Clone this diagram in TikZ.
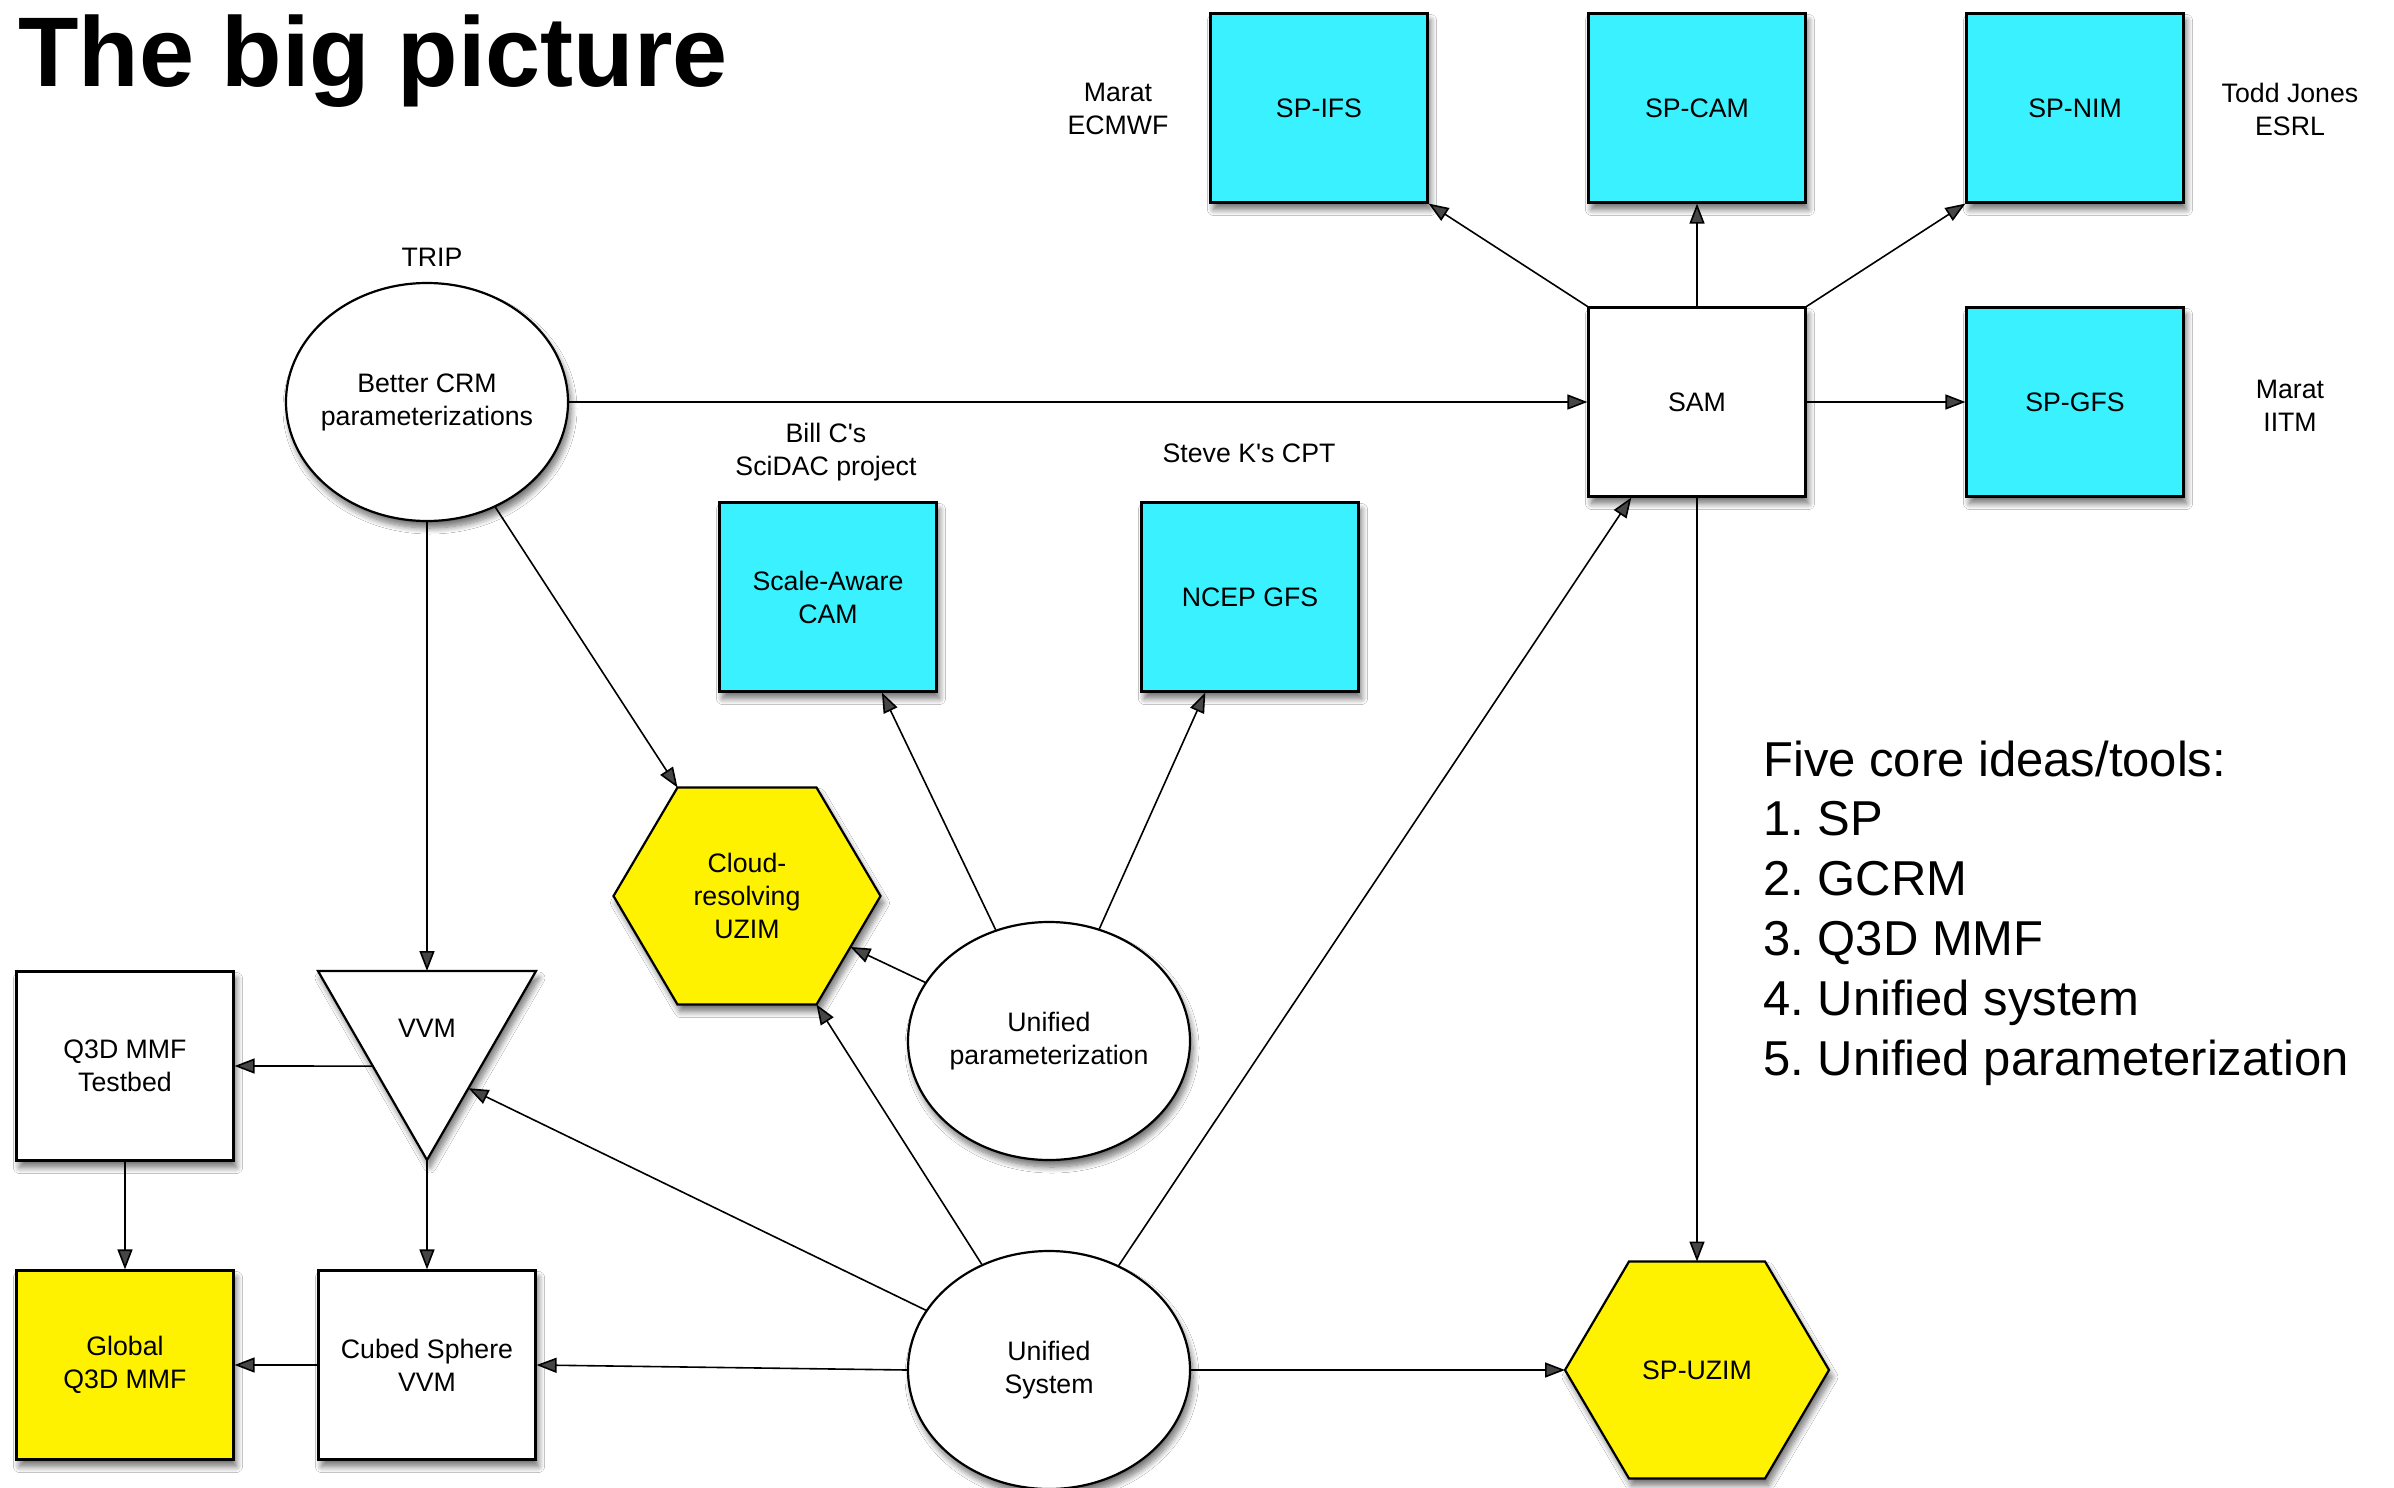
\documentclass[tikz,border=0pt]{standalone}
\usepackage{fontspec}
\setmainfont{Liberation Sans}
\usetikzlibrary{arrows.meta,shapes.geometric,calc,shadows.blur}
\definecolor{boxcyan}{RGB}{58,242,255}
\definecolor{hexyellow}{RGB}{255,242,0}
\frenchspacing
\begin{document}
\begin{tikzpicture}[x=1pt,y=-1pt,
  every node/.style={font=\fontsize{26.7}{33}\selectfont, inner sep=0pt},
  dropsh/.style={blur shadow={shadow xshift=3pt, shadow yshift=-7pt, shadow blur radius=6pt, shadow blur steps=10, shadow opacity=55}},
  box/.style={rectangle, draw, line width=2.2pt, minimum width=217pt, minimum height=189pt, align=center, dropsh},
  cyanbox/.style={box, fill=boxcyan},
  whitebox/.style={box, fill=white},
  ell/.style={ellipse, draw, line width=2.2pt, fill=white, minimum width=282pt, minimum height=238pt, inner xsep=-40pt, align=center, dropsh},
  shapeline/.style={draw, line width=2.2pt, line join=miter, dropsh},
  lbl/.style={align=center},
  conn/.style={line width=1.6pt, -{Triangle[length=20pt,width=15pt]}},
  biglist/.style={font=\fontsize{49}{60}\selectfont, anchor=base west},
]
\fill[white] (0,0) rectangle (2394,1488);
\useasboundingbox (0,0) rectangle (2394,1488);

% title
\node[anchor=base west, font=\fontsize{99}{110}\selectfont\bfseries] (title) at (18,86) {The big picture};

% boxes
\node[cyanbox] (SPIFS) at (1319,108) {SP-IFS};
\node[cyanbox] (SPCAM) at (1697,108) {SP-CAM};
\node[cyanbox] (SPNIM) at (2075,108) {SP-NIM};
\node[cyanbox] (SPGFS) at (2075,402) {SP-GFS};
\node[whitebox] (SAM) at (1697,402) {SAM};
\node[cyanbox] (SAC) at (828,597) {Scale-Aware\\CAM};
\node[cyanbox] (NCEP) at (1250,597) {NCEP GFS};
\node[whitebox] (Q3D) at (125,1066) {Q3D MMF\\Testbed};
\node[box, fill=hexyellow] (GQ) at (125,1365) {Global\\Q3D MMF};
\node[whitebox] (CS) at (427,1365) {Cubed Sphere\\VVM};

% ellipses
\node[ell] (CRM) at (427,402) {Better CRM\\parameterizations};
\node[ell] (UP) at (1049,1041) {Unified\\parameterization};
\node[ell] (US) at (1049,1370) {Unified\\System};

% cloud-resolving hexagon
\coordinate (CRl) at (613.5,896);
\coordinate (CRtl) at (677.5,787.5);
\coordinate (CRtr) at (816.5,787.5);
\coordinate (CRr) at (880.5,896);
\coordinate (CRbr) at (816.5,1004.5);
\coordinate (CRbl) at (677.5,1004.5);
\path[shapeline, fill=hexyellow] (CRl) -- (CRtl) -- (CRtr) -- (CRr) -- (CRbr) -- (CRbl) -- cycle;
\node[align=center] (CR) at (747,896) {Cloud-\\resolving\\UZIM};
\coordinate (CRre) at ($(CRr)!0.47!(CRbr)$);

% SP-UZIM hexagon
\coordinate (UZl) at (1565,1370);
\coordinate (UZtl) at (1629,1261.5);
\coordinate (UZtr) at (1765,1261.5);
\coordinate (UZr) at (1829,1370);
\coordinate (UZbr) at (1765,1478.5);
\coordinate (UZbl) at (1629,1478.5);
\path[shapeline, fill=hexyellow] (UZl) -- (UZtl) -- (UZtr) -- (UZr) -- (UZbr) -- (UZbl) -- cycle;
\node (UZ) at (1697,1370) {SP-UZIM};
\coordinate (UZt) at ($(UZtl)!0.5!(UZtr)$);

% VVM triangle
\coordinate (VVtl) at (318,971);
\coordinate (VVtr) at (536,971);
\coordinate (VVb) at (427,1160);
\coordinate (VVt) at (427,971);
\path[shapeline, fill=white] (VVtl) -- (VVtr) -- (VVb) -- cycle;
\node (VVM) at (427,1028) {VVM};
\coordinate (VVle) at ($(VVtl)!0.503!(VVb)$);
\coordinate (VVre) at ($(VVtr)!0.62!(VVb)$);

% connector end points on box edges
\coordinate (SAMb) at ($(SAM.south west)!0.2!(SAM.south east)$);
\coordinate (SACb) at ($(SAC.south west)!0.746!(SAC.south east)$);
\coordinate (NCEPb) at ($(NCEP.south west)!0.296!(NCEP.south east)$);

% labels
\node[lbl] (lECMWF) at (1118,109) {Marat\\ECMWF};
\node[lbl] (lESRL) at (2290,109) {Todd Jones\\ESRL};
\node[lbl] (lIITM) at (2290,406) {Marat\\IITM};
\node[lbl] (lTRIP) at (432,257) {TRIP};
\node[lbl] (lBill) at (826,452) {Bill C\textquotesingle s\\SciDAC project};
\node[lbl] (lSteve) at (1249,453) {Steve K\textquotesingle s CPT};

% list
\node[biglist] (f0) at (1763,776) {Five core ideas/tools:};
\node[biglist] (f1) at (1763,835.8) {1. SP};
\node[biglist] (f2) at (1763,895.6) {2. GCRM};
\node[biglist] (f3) at (1763,955.4) {3. Q3D MMF};
\node[biglist] (f4) at (1763,1015.2) {4. Unified system};
\node[biglist] (f5) at (1763,1075) {5. Unified parameterization};

% connectors
\draw[conn] (CRM) -- (SAM);
\draw[conn] (SAM.north west) -- (SPIFS.south east);
\draw[conn] (SAM) -- (SPCAM);
\draw[conn] (SAM.north east) -- (SPNIM.south west);
\draw[conn] (SAM) -- (SPGFS);
\draw[conn] (SAM) -- (UZt);
\draw[conn] (US) -- (SAMb);
\draw[conn] (US) -- (UZl);
\draw[conn] (US) -- (CRbr);
\draw[conn] (US) -- (VVre);
\draw[conn] (US.west) -- (CS.east);
\draw[conn] (UP) -- (CRre);
\draw[conn] (UP) -- (SACb);
\draw[conn] (UP) -- (NCEPb);
\draw[conn] (CRM) -- (CRtl);
\draw[conn] (CRM) -- (VVt);
\draw[conn] (VVle) -- (Q3D.east);
\draw[conn] (VVb) -- (CS);
\draw[conn] (Q3D) -- (GQ);
\draw[conn] (CS) -- (GQ);
\end{tikzpicture}
\end{document}
